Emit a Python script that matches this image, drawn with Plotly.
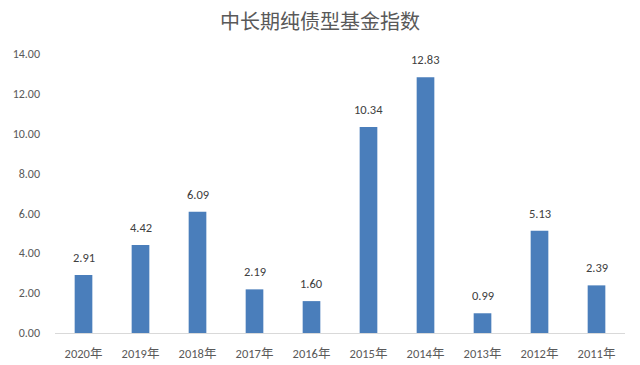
import plotly.graph_objects as go

categories = ["2020年", "2019年", "2018年", "2017年", "2016年", "2015年", "2014年", "2013年", "2012年", "2011年"]
values = [2.91, 4.42, 6.09, 2.19, 1.60, 10.34, 12.83, 0.99, 5.13, 2.39]
tick_vals = [0, 2, 4, 6, 8, 10, 12, 14]
tick_text = ["0.00", "2.00", "4.00", "6.00", "8.00", "10.00", "12.00", "14.00"]
title = "中长期纯债型基金指数"

font_fam = "Calibri, Carlito, 'Noto Sans CJK SC', sans-serif"

fig = go.Figure(go.Bar(
    x=categories, y=values,
    marker=dict(color="#4A7EBB", line=dict(width=0)),
    cliponaxis=False,
))

for c, v in zip(categories, values):
    fig.add_annotation(x=c, y=v, text=f"{v:.2f}", showarrow=False,
                       yanchor="bottom", yshift=8,
                       font=dict(size=12.5, color="#404040", family=font_fam))

fig.update_layout(
    width=640, height=365,
    margin=dict(l=55, r=15, t=54, b=32, autoexpand=False),
    paper_bgcolor="white", plot_bgcolor="white",
    title=dict(text=title, x=0.5, xanchor="center", y=0.94, yanchor="middle",
               font=dict(size=20, color="#595959", family="'Noto Sans CJK SC', sans-serif")),
    bargap=0.69,
    showlegend=False,
    xaxis=dict(showline=True, linecolor="#D9D9D9", linewidth=1, ticks="outside",
               ticklen=9, tickcolor="rgba(0,0,0,0)", automargin=False,
               tickfont=dict(size=12.5, color="#595959", family=font_fam), showgrid=False),
    yaxis=dict(range=[0, 14], tickvals=tick_vals, ticktext=tick_text, showgrid=False,
               zeroline=False, showline=False, ticks="", automargin=False,
               ticklabelstandoff=14,
               tickfont=dict(size=12, color="#595959", family=font_fam)),
)

fig.write_html("out.html", config={"displayModeBar": False},
               post_script="document.body.style.margin='0px';")
